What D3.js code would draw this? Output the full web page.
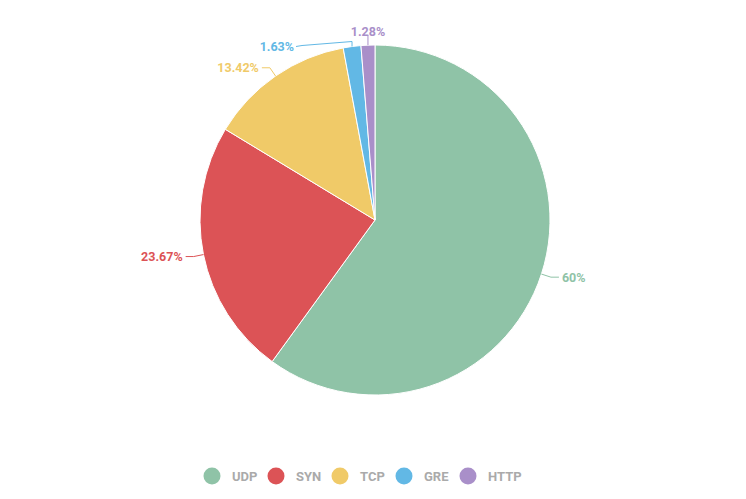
<!DOCTYPE html><html><head><meta charset="utf-8"><script src="https://cdn.jsdelivr.net/npm/d3@7"></script>
<style>body{margin:0;background:#fff}text{font-family:Roboto,sans-serif;font-weight:bold}</style></head><body>
<svg id="c" width="746" height="499"></svg>
<script>
const categories=["UDP","SYN","TCP","GRE","HTTP"];
const values=[60,23.67,13.42,1.63,1.28];
const labels=["60%","23.67%","13.42%","1.63%","1.28%"];
const colors=["#8fc3a7","#dc5356","#f0ca68","#62b8e5","#a98fc9"];
const svg=d3.select("#c"),cx=375,cy=220,r=175;
const g=svg.append("g").attr("transform",`translate(${cx},${cy})`);
const pie=d3.pie().sort(null).value(d=>d)(values);
const arc=d3.arc().innerRadius(0).outerRadius(r);
g.selectAll("path").data(pie).join("path").attr("d",arc).attr("fill",(d,i)=>colors[i]).attr("stroke","#fff").attr("stroke-width",1);
let prevY=null;
pie.forEach((d,i)=>{
  const a=(d.startAngle+d.endAngle)/2;
  const pt=(rr)=>[Math.sin(a)*rr,-Math.cos(a)*rr];
  const p1=pt(r),p2=pt(r+10);
  let pts,tx,ty,anchor;
  if(i===4){ // near-top slice label placed above
    pts=[p1,[p1[0],p1[1]-10]];tx=p1[0];ty=p1[1]-14;anchor="middle";
  } else if(i===3){
    const y=p1[1]-5;
    pts=[p1,[p1[0],y],[p1[0]-50,y+4],[p1[0]-56,y+5]];tx=p1[0]-58;ty=y+5;anchor="end";
  } else {
    const right=Math.sin(a)>0;
    const p3=[p2[0]+(right?8:-8),p2[1]];
    pts=[p1,p2,p3];tx=p3[0]+(right?3:-3);ty=p3[1];anchor=right?"start":"end";
  }
  g.append("path").attr("d",d3.line().curve(d3.curveLinear)(pts)).attr("fill","none").attr("stroke",colors[i]).attr("stroke-width",1);
  g.append("text").attr("x",tx).attr("y",ty).attr("dy","0.35em").attr("text-anchor",anchor).attr("font-size",12.5).attr("fill",colors[i]).text(labels[i]);
});
const lx=d3.scaleBand().domain(categories).range([202,522]);
const lg=svg.selectAll("g.l").data(categories).join("g").attr("transform",d=>`translate(${lx(d)},476)`);
lg.append("circle").attr("cx",10).attr("r",8.5).attr("fill",(d,i)=>colors[i]);
lg.append("text").attr("x",30).attr("dy","0.35em").attr("font-size",13).attr("fill","#aaa").text(d=>d);
</script></body></html>
